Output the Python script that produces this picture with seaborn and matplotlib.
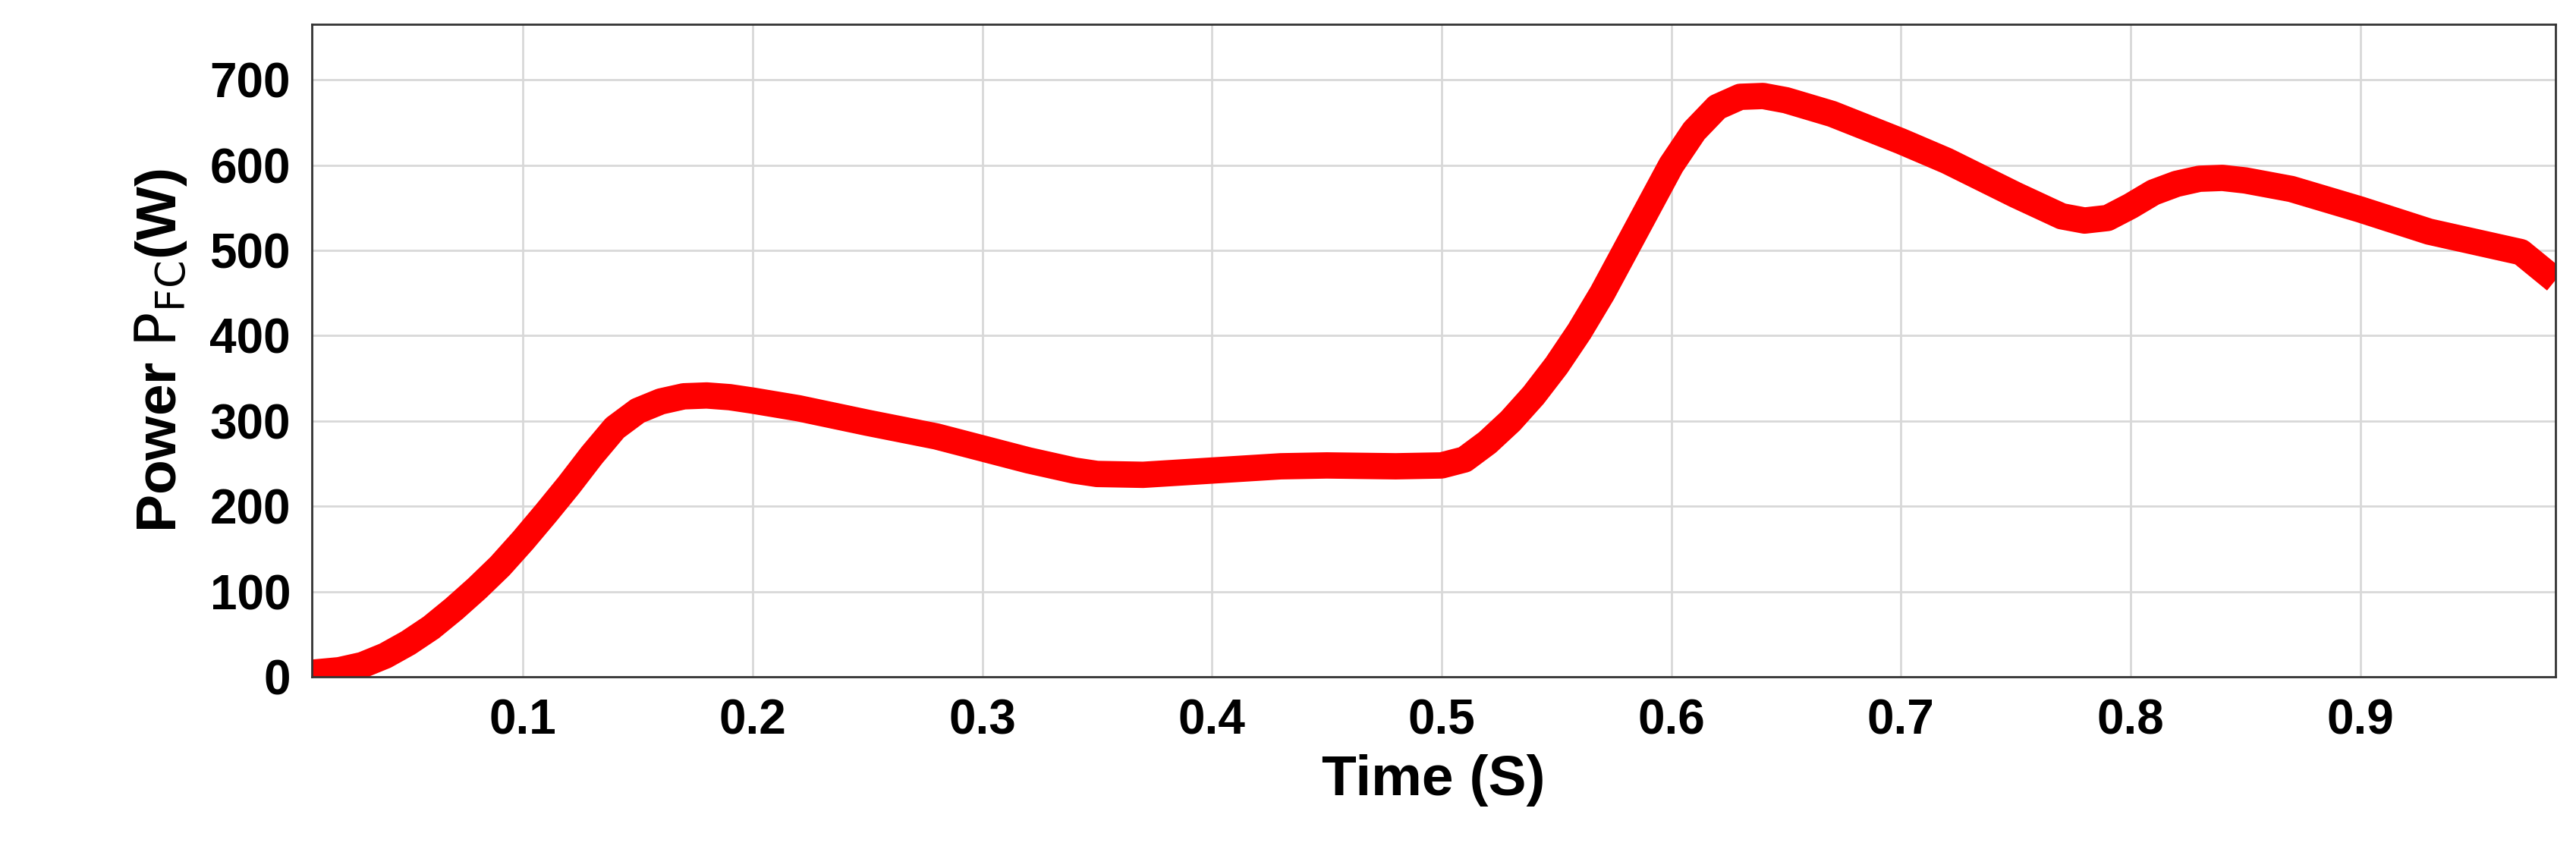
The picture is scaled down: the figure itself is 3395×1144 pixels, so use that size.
import matplotlib
matplotlib.use("Agg")
import matplotlib.pyplot as plt
import pandas as pd
import seaborn as sns

time_s = [0.008, 0.02, 0.03, 0.04, 0.05, 0.06, 0.07, 0.08, 0.09, 0.10, 0.11, 0.12, 0.13, 0.14,
          0.15, 0.16, 0.17, 0.18, 0.19, 0.20, 0.22, 0.25, 0.28, 0.30, 0.32, 0.34, 0.35, 0.37,
          0.40, 0.43, 0.45, 0.48, 0.50, 0.51, 0.52, 0.53, 0.54, 0.55, 0.56, 0.57, 0.58, 0.59,
          0.60, 0.61, 0.62, 0.63, 0.64, 0.65, 0.67, 0.70, 0.72, 0.75, 0.77, 0.78, 0.79, 0.80,
          0.81, 0.82, 0.83, 0.84, 0.85, 0.87, 0.90, 0.93, 0.95, 0.97, 0.985]
power_w = [5, 8, 14, 25, 40, 58, 80, 104, 130, 160, 192, 225, 260, 292, 312, 323, 329, 330,
           328, 324, 315, 298, 282, 268, 254, 242, 238, 237, 242, 247, 248, 247, 248, 255,
           275, 300, 330, 365, 405, 450, 500, 550, 600, 640, 668, 680, 681, 676, 660, 628,
           605, 565, 540, 535, 538, 552, 568, 578, 584, 585, 582, 572, 548, 522, 510, 498, 465]

df = pd.DataFrame({"time": time_s, "power": power_w})
x_ticks = [0.1, 0.2, 0.3, 0.4, 0.5, 0.6, 0.7, 0.8, 0.9]
y_ticks = [0, 100, 200, 300, 400, 500, 600, 700]

sns.set_theme(style="whitegrid")
plt.rcParams["font.family"] = ["Liberation Sans", "DejaVu Sans"]

fig, ax = plt.subplots(figsize=(33.95, 11.44), dpi=100)
fig.subplots_adjust(left=0.121, right=0.992, top=0.972, bottom=0.22)
sns.lineplot(data=df, x="time", y="power", ax=ax, color="#ff0000", linewidth=25,
             solid_capstyle="butt", solid_joinstyle="round")

ax.set_xlim(0.008, 0.985)
ax.set_ylim(0, 765)
ax.set_xticks(x_ticks)
ax.set_yticks(y_ticks)
ax.set_xticklabels([f"{t:.1f}" for t in x_ticks])
ax.tick_params(labelsize=46, pad=14, labelcolor="black")
for lbl in ax.get_xticklabels() + ax.get_yticklabels():
    lbl.set_fontweight("bold")
ax.grid(True, color="#d8d8d8", linewidth=2)
for s in ax.spines.values():
    s.set_color("#333333")
    s.set_linewidth(2)
ax.set_xlabel("Time (S)", fontsize=54, fontweight="bold", labelpad=10, color="black")
ax.set_ylabel(r"Power $\mathrm{P_{FC}}$(W)", fontsize=54, fontweight="bold", labelpad=20,
              color="black")

fig.savefig("out.png", dpi=100)
